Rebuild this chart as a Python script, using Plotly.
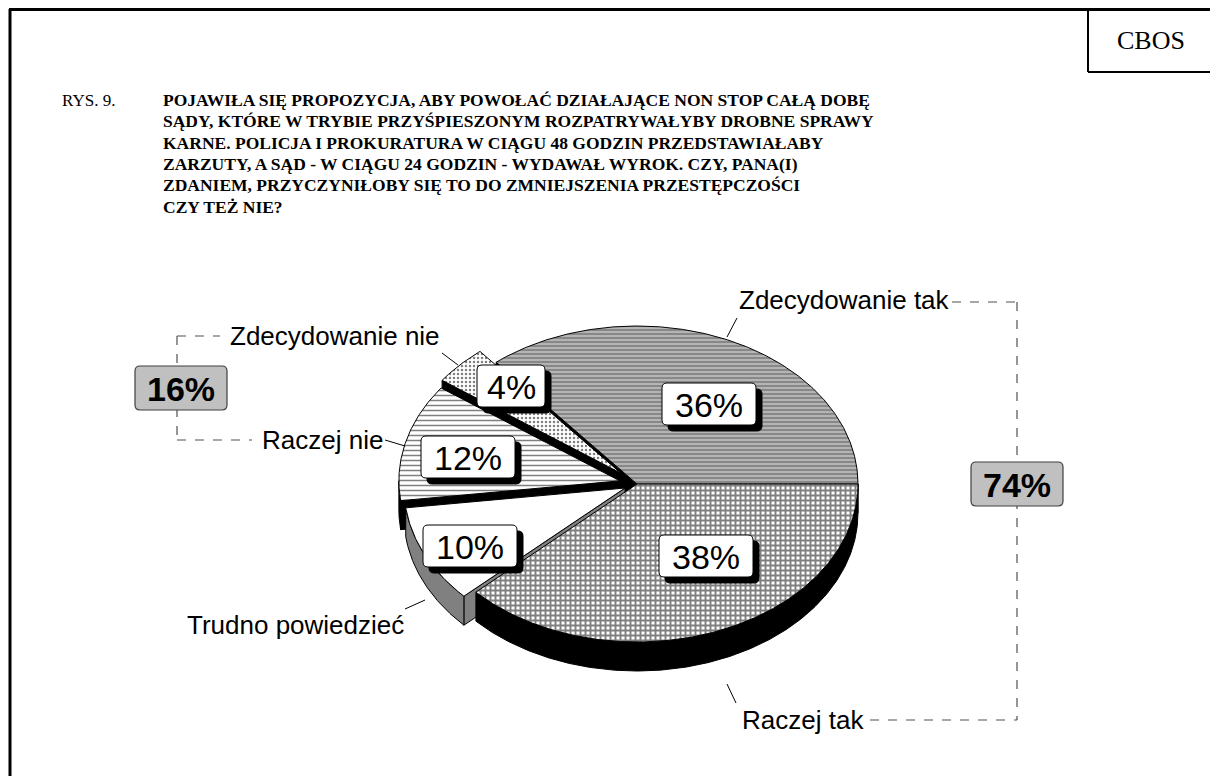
import numpy as np
import plotly.graph_objects as go

# ---------------- data ----------------
categories = ["Zdecydowanie tak", "Zdecydowanie nie", "Raczej nie", "Trudno powiedzieć", "Raczej tak"]
values = [36, 4, 12, 10, 38]
yes_idx = [0, 4]
no_idx = [1, 2]
title_lines = [
    "POJAWIŁA SIĘ PROPOZYCJA, ABY POWOŁAĆ DZIAŁAJĄCE NON STOP CAŁĄ DOBĘ",
    "SĄDY, KTÓRE W TRYBIE PRZYŚPIESZONYM ROZPATRYWAŁYBY DROBNE SPRAWY",
    "KARNE. POLICJA I PROKURATURA W CIĄGU 48 GODZIN PRZEDSTAWIAŁABY",
    "ZARZUTY, A SĄD - W CIĄGU 24 GODZIN - WYDAWAŁ WYROK. CZY, PANA(I)",
    "ZDANIEM, PRZYCZYNIŁOBY SIĘ TO DO ZMNIEJSZENIA PRZESTĘPCZOŚCI",
    "CZY TEŻ NIE?",
]
fig_label = "RYS. 9."
source_label = "CBOS"

# ---------------- style ----------------
W, H = 1218, 776
PAGE_OFF = 8  # default body margin of the html page
CX, CY, RX, RY, DEPTH = 637, 484, 221, 158, 29
explode = [0.0, 0.10, 0.08, 0.06, 0.0]
patterns = [
    dict(shape="-", size=4, solidity=0.3, fgcolor="#202020", bgcolor="#b4b4b4"),
    dict(shape=".", size=4, solidity=0.3, fgcolor="#000000", bgcolor="#ffffff"),
    dict(shape="-", size=5, solidity=0.3, fgcolor="#000000", bgcolor="#ffffff"),
    None,
    dict(shape="+", size=5, solidity=0.62, fgcolor="#000000", bgcolor="#ffffff"),
]
side_colors = ["#000000", "#000000", "#000000", "#808080", "#000000"]
SANS = "Liberation Sans, Arial, sans-serif"
SERIF = "Liberation Serif, Times New Roman, serif"

fig = go.Figure()

total = float(sum(values))
bounds = np.concatenate([[0], np.cumsum(values)]) / total * 360.0


def offset(i):
    a, b = bounds[i], bounds[i + 1]
    mid = np.radians((a + b) / 2)
    e = explode[i]
    return e * RX * np.cos(mid), -e * RY * np.sin(mid)


def rim(th, off, z=0.0):
    t = np.radians(th)
    return CX + off[0] + RX * np.cos(t), CY + off[1] - RY * np.sin(t) + z


faces = []
for i in range(len(values)):
    a, b = bounds[i], bounds[i + 1]
    off = offset(i)
    tip = (CX + off[0], CY + off[1])
    lo, hi = max(a, 180.0), min(b, 360.0)
    if lo < hi:
        th = np.linspace(lo, hi, max(4, int((hi - lo) * 2)))
        tx, ty = rim(th, off)
        bx, by = rim(th[::-1], off, DEPTH)
        xs = np.concatenate([tx, bx, tx[:1]])
        ys = np.concatenate([ty, by, ty[:1]])
        faces.append((np.mean(by), xs, ys, side_colors[i]))
    for edge, vis in ((b, np.cos(np.radians(b)) < 0), (a, np.cos(np.radians(a)) > 0)):
        if vis:
            rx0, ry0 = rim(edge, off)
            xs = [tip[0], rx0, rx0, tip[0], tip[0]]
            ys = [tip[1], ry0, ry0 + DEPTH, tip[1] + DEPTH, tip[1]]
            faces.append(((ry0 + tip[1]) / 2 + DEPTH, xs, ys, side_colors[i]))

faces.sort(key=lambda f: f[0])
for _, xs, ys, col in faces:
    fig.add_trace(go.Scatter(x=xs, y=ys, mode="lines", fill="toself", fillcolor=col,
                             line=dict(color="black", width=1), hoverinfo="skip",
                             showlegend=False))

for i in range(len(values)):
    a, b = bounds[i], bounds[i + 1]
    off = offset(i)
    th = np.linspace(a, b, max(4, int((b - a) * 2)))
    ax_, ay_ = rim(th, off)
    xs = np.concatenate([[CX + off[0]], ax_, [CX + off[0]]])
    ys = np.concatenate([[CY + off[1]], ay_, [CY + off[1]]])
    kw = dict(fillcolor="white")
    if patterns[i] is not None:
        kw["fillpattern"] = patterns[i]
        kw["fillcolor"] = patterns[i]["bgcolor"]
    fig.add_trace(go.Scatter(x=xs, y=ys, mode="lines", fill="toself",
                             line=dict(color="black", width=1), hoverinfo="skip",
                             showlegend=False, name=categories[i], **kw))


def rrect(x0, y0, x1, y1, r=5):
    return (f"M {x0+r},{y0} L {x1-r},{y0} Q {x1},{y0} {x1},{y0+r} L {x1},{y1-r} "
            f"Q {x1},{y1} {x1-r},{y1} L {x0+r},{y1} Q {x0},{y1} {x0},{y1-r} "
            f"L {x0},{y0+r} Q {x0},{y0} {x0+r},{y0} Z")


shapes = []
annotations = []

label_pos = [(709, 404), (511, 386), (468, 457), (470, 546), (706, 556)]
for i, (lx, ly) in enumerate(label_pos):
    txt = f"{values[i]}%"
    w = 68 if len(txt) == 2 else 94
    h = 42
    x0, y0, x1, y1 = lx - w / 2, ly - h / 2, lx + w / 2, ly + h / 2
    shapes.append(dict(type="path", path=rrect(x0 + 6, y0 + 6, x1 + 6, y1 + 6), fillcolor="black",
                       line=dict(color="black", width=1), xref="x", yref="y"))
    shapes.append(dict(type="path", path=rrect(x0, y0, x1, y1), fillcolor="white",
                       line=dict(color="black", width=1), xref="x", yref="y"))
    annotations.append(dict(x=lx, y=ly + 1, text=txt, showarrow=False, xref="x", yref="y",
                            font=dict(family=SANS, size=34, color="black")))

cat_pos = [(844, 300), (335, 336), (322, 440), (295, 625), (803, 720)]
leaders = [((737, 318), (727, 337)), ((442, 353), (458, 365)), ((385, 440), (405, 446)),
           ((405, 609), (425, 600)), ((736, 703), (727, 684))]
for i, (px, py) in enumerate(cat_pos):
    annotations.append(dict(x=px, y=py, text=categories[i], showarrow=False, xref="x", yref="y",
                            font=dict(family=SANS, size=26, color="black")))
    (x0, y0), (x1, y1) = leaders[i]
    shapes.append(dict(type="line", x0=x0, y0=y0, x1=x1, y1=y1, xref="x", yref="y",
                       line=dict(color="black", width=1)))

dash = dict(color="#505050", width=1.2, dash="dash")
shapes += [
    dict(type="line", x0=952, y0=302, x1=1017, y1=302, xref="x", yref="y", line=dash),
    dict(type="line", x0=1017, y0=302, x1=1017, y1=720, xref="x", yref="y", line=dash),
    dict(type="line", x0=870, y0=720, x1=1017, y1=720, xref="x", yref="y", line=dash),
    dict(type="line", x0=177, y0=336, x1=220, y1=336, xref="x", yref="y", line=dash),
    dict(type="line", x0=177, y0=336, x1=177, y1=440, xref="x", yref="y", line=dash),
    dict(type="line", x0=177, y0=440, x1=252, y1=440, xref="x", yref="y", line=dash),
]
yes_total = sum(values[k] for k in yes_idx)
no_total = sum(values[k] for k in no_idx)
for (cxg, cyg, tot) in ((1017, 484, yes_total), (181, 388, no_total)):
    shapes.append(dict(type="path", path=rrect(cxg - 46, cyg - 22, cxg + 46, cyg + 22, 5),
                       fillcolor="#c0c0c0", line=dict(color="#404040", width=1.2),
                       xref="x", yref="y"))
    annotations.append(dict(x=cxg, y=cyg + 1, text=f"<b>{tot}%</b>", showarrow=False,
                            xref="x", yref="y", font=dict(family=SANS, size=34, color="black")))

shapes += [
    dict(type="line", x0=10, y0=9, x1=10, y1=790, xref="x", yref="y", line=dict(color="black", width=3)),
    dict(type="line", x0=9, y0=9.5, x1=1230, y1=9.5, xref="x", yref="y", line=dict(color="black", width=3)),
    dict(type="line", x0=1088, y0=8, x1=1088, y1=72, xref="x", yref="y", line=dict(color="black", width=2)),
    dict(type="line", x0=1088, y0=72, x1=1230, y1=72, xref="x", yref="y", line=dict(color="black", width=2)),
]
annotations.append(dict(x=1151, y=40, text=source_label, showarrow=False, xref="x", yref="y",
                        font=dict(family=SERIF, size=26, color="black")))

annotations.append(dict(x=60, y=100, text=fig_label, showarrow=False, xref="x", yref="y",
                        xanchor="left", font=dict(family=SERIF, size=17, color="black")))
for k, line in enumerate(title_lines):
    annotations.append(dict(x=161, y=100 + k * 21.3, text=f"<b>{line}</b>", showarrow=False,
                            xref="x", yref="y", xanchor="left",
                            font=dict(family=SERIF, size=17.5, color="black")))

fig.update_layout(
    width=W, height=H, margin=dict(l=0, r=0, t=0, b=0),
    paper_bgcolor="white", plot_bgcolor="white",
    xaxis=dict(range=[PAGE_OFF, W + PAGE_OFF], visible=False, fixedrange=True),
    yaxis=dict(range=[H + PAGE_OFF, PAGE_OFF], visible=False, fixedrange=True),
    shapes=shapes, annotations=annotations, showlegend=False,
)
fig.write_html("out.html")
